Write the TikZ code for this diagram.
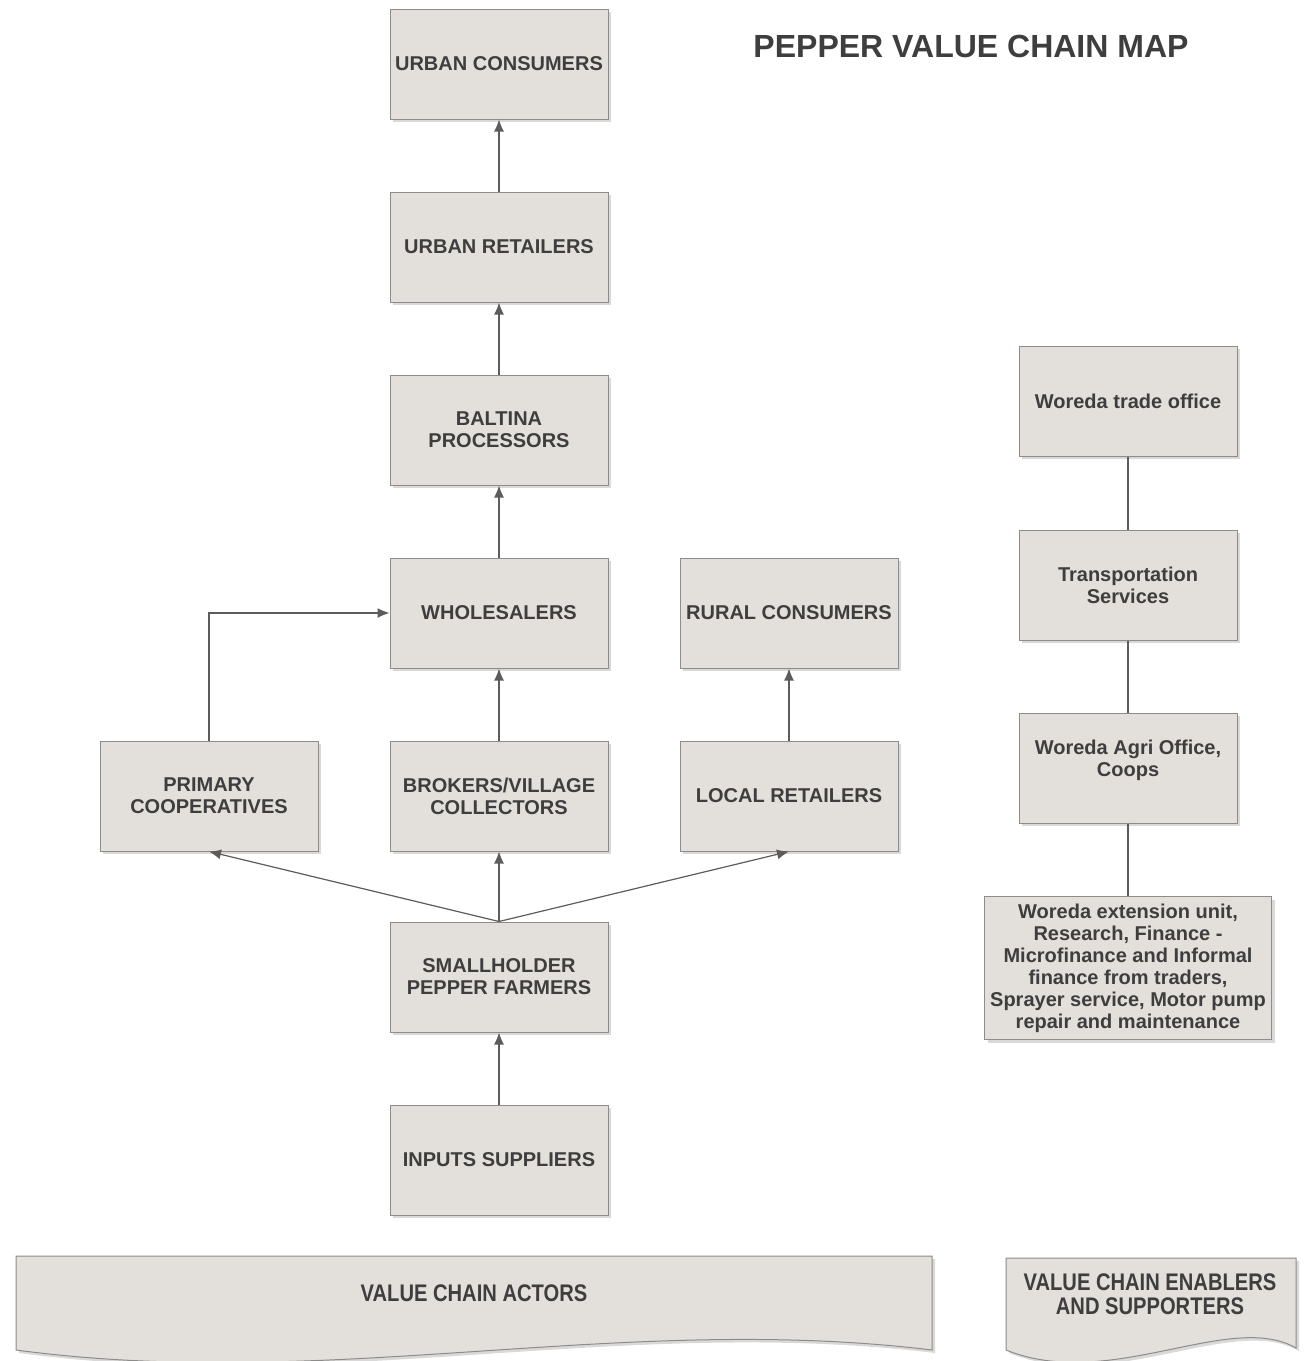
\documentclass[tikz,border=0pt]{standalone}
\usepackage{fontspec}
\setmainfont{Liberation Sans}
\newfontfamily\narrowfont[FakeStretch=0.84]{Liberation Sans}
\usetikzlibrary{shadows,arrows.meta}
\definecolor{boxfill}{HTML}{E3DFDA}
\definecolor{boxline}{HTML}{8C8C8C}
\definecolor{ink}{HTML}{3E3E3E}
\definecolor{wire}{HTML}{5C5C5C}
\begin{document}
\begin{tikzpicture}
                                [
                                    x=1pt, y=-1pt,
                                    square/.style = {draw=boxline, fill=boxfill, shape=rectangle, minimum height=110pt, minimum width=218pt, line width=1pt, text=ink, align=center, font=\fontsize{20}{22}\selectfont\bfseries, drop shadow={shadow xshift=3pt, shadow yshift=-3pt, opacity=0.3}},
                                    wide/.style = {square, minimum height=143pt, minimum width=287pt},
                                    banner/.style = {draw=boxline, fill=boxfill, line width=1pt, drop shadow={shadow xshift=3pt, shadow yshift=-3pt, opacity=0.3}},
                                    label/.style = {text=ink, align=center, font=\fontsize{24}{24}\narrowfont\bfseries},
                                    link/.style = {draw=wire, line width=1.2pt},
                                    tip/.style = {-{Latex[length=12pt, width=10pt]}},
                                ]
                                \useasboundingbox (0,0) rectangle (1307,1361);

                                \node[text=ink, font=\fontsize{32}{34}\selectfont\bfseries] (title) at (971,46) {PEPPER VALUE CHAIN MAP};

                                \node[square] (uc) at (499,64)     {URBAN CONSUMERS};
                                \node[square] (ur) at (499,247)    {URBAN RETAILERS};
                                \node[square] (bp) at (499,430)    {BALTINA\\PROCESSORS};
                                \node[square] (ws) at (499,613)    {WHOLESALERS};
                                \node[square] (bc) at (499,796)    {BROKERS/VILLAGE\\COLLECTORS};
                                \node[square] (sf) at (499,977)    {SMALLHOLDER\\PEPPER FARMERS};
                                \node[square] (is) at (499,1160)   {INPUTS SUPPLIERS};

                                \node[square] (pc) at (209,796)    {PRIMARY\\COOPERATIVES};
                                \node[square] (lr) at (789,796)    {LOCAL RETAILERS};
                                \node[square] (rc) at (789,613)    {RURAL CONSUMERS};

                                \node[square] (wt) at (1128,401)   {Woreda trade office};
                                \node[square] (ts) at (1128,585)   {Transportation\\Services};
                                \node[square] (wa) at (1128,768)   {Woreda Agri Office,\\Coops\\[-2pt]};
                                \node[wide]   (we) at (1128,968)   {Woreda extension unit,\\Research, Finance -\\Microfinance and Informal\\finance from traders,\\Sprayer service, Motor pump\\repair and maintenance};

                                % value chain flow
                                \draw [link, tip] (is.north) -- (sf.south);
                                \draw [link, tip] (sf.north) -- (pc.south);
                                \draw [link, tip] (sf.north) -- (bc.south);
                                \draw [link, tip] (sf.north) -- (lr.south);
                                \draw [link, tip] (pc.north) |- (ws.west);
                                \draw [link, tip] (bc.north) -- (ws.south);
                                \draw [link, tip] (lr.north) -- (rc.south);
                                \draw [link, tip] (ws.north) -- (bp.south);
                                \draw [link, tip] (bp.north) -- (ur.south);
                                \draw [link, tip] (ur.north) -- (uc.south);

                                % enablers
                                \draw [link] (wt.south) -- (ts.north);
                                \draw [link] (ts.south) -- (wa.north);
                                \draw [link] (wa.south) -- (we.north);

                                % bottom banners
                                \draw [banner] (16,1256) -- (932,1256) -- (932,1350) .. controls (620,1312) and (330,1392) .. (16,1350) -- cycle;
                                \draw [banner] (1006,1258) -- (1296,1258) -- (1296,1348) .. controls (1230,1310) and (1110,1392) .. (1006,1350) -- cycle;
                                \node[label] (act) at (474,1293)   {VALUE CHAIN ACTORS};
                                \node[label] (ena) at (1150,1294)  {VALUE CHAIN ENABLERS\\AND SUPPORTERS};

                            \end{tikzpicture}
\end{document}
